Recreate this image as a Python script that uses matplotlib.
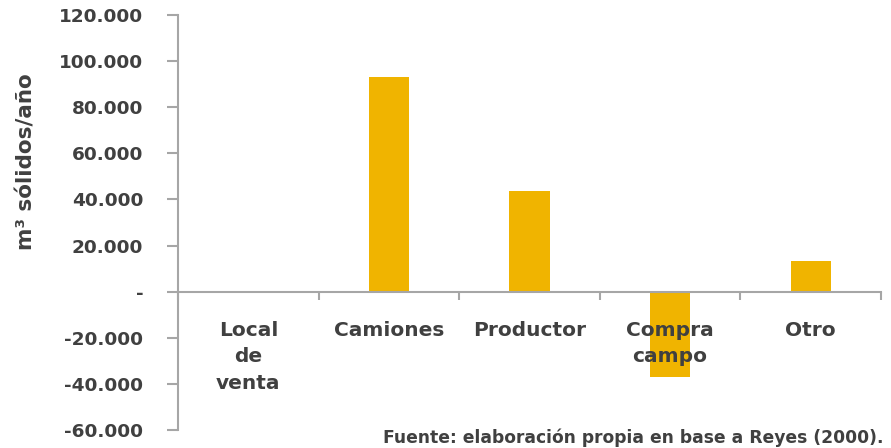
import matplotlib.pyplot as plt
import numpy as np

categorias = ['Local\nde\nventa', 'Camiones', 'Productor', 'Compra\ncampo', 'Otro']
valores = [0, 93200, 43800, -36900, 13400]
y_ticks = [-60000, -40000, -20000, 0, 20000, 40000, 60000, 80000, 100000, 120000]
y_labels = ['-60.000', '-40.000', '-20.000', '-', '20.000', '40.000', '60.000',
            '80.000', '100.000', '120.000']

plt.rcParams['font.family'] = ['DejaVu Sans']
plt.rcParams['ytick.major.pad'] = 17
plt.rcParams['ytick.major.size'] = 8
gris = '#A6A6A6'
texto = '#404040'

fig = plt.figure(figsize=(8.91, 4.48), dpi=100)
ax = fig.add_axes([0.1998, 0.0402, 0.789, 0.9263])

x = np.arange(len(categorias))
ax.bar(x, valores, width=0.285, color='#F0B400', zorder=2)

ax.set_xlim(-0.5, len(categorias) - 0.5)
ax.set_ylim(-60000, 120000)
ax.set_yticks(y_ticks)
ax.set_yticklabels(y_labels, fontsize=13.3, fontweight='bold', color=texto)

# ticks en los limites de cada categoria, etiquetas como texto encima de las barras
ax.set_xticks(np.arange(len(categorias) + 1) - 0.5)
ax.set_xticklabels([])
ax.tick_params(axis='x', length=6, width=1.5, color=gris, direction='out')
ax.tick_params(axis='y', width=1.5, color=gris)
for xi, cat in zip(x, categorias):
    ax.annotate(cat, (xi, 0), xytext=(0, -21), textcoords='offset points',
                ha='center', va='top', fontsize=14.5, fontweight='bold',
                color=texto, linespacing=1.5, zorder=5, annotation_clip=False)

ax.spines['top'].set_visible(False)
ax.spines['right'].set_visible(False)
ax.spines['bottom'].set_position(('data', 0))
for s in ['bottom', 'left']:
    ax.spines[s].set_color(gris)
    ax.spines[s].set_linewidth(1.5)
    ax.spines[s].set_zorder(3)

fig.text(0.03, 0.64, 'm³ sólidos/año', rotation=90, ha='center', va='center',
         fontsize=15.5, fontweight='bold', color=texto)
fig.text(0.992, 0.022, 'Fuente: elaboración propia en base a Reyes (2000).',
         ha='right', va='center', fontsize=12.3, fontweight='bold', color=texto)

fig.savefig('out.png', dpi=100)
